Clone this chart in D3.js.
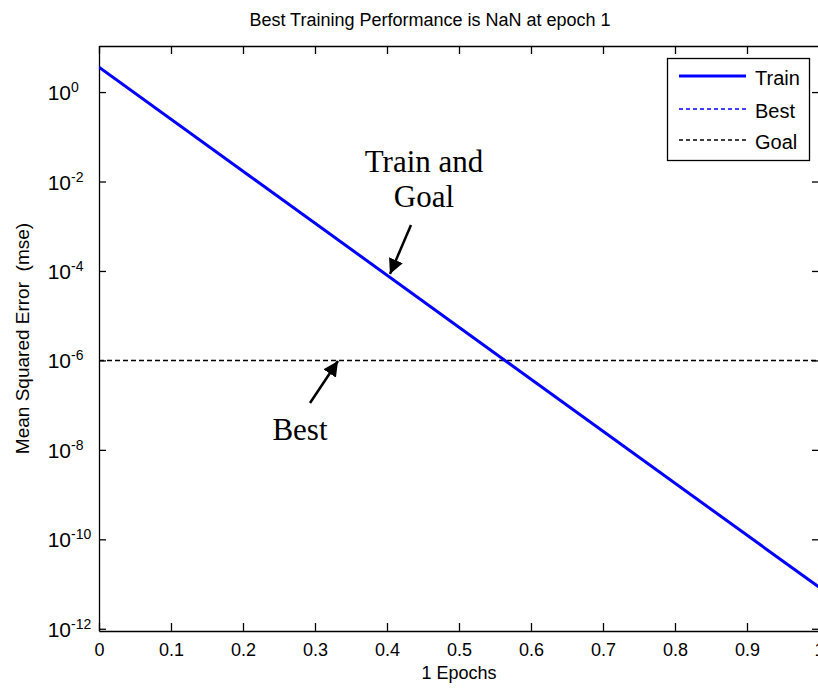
<!DOCTYPE html>
<html>
<head>
<meta charset="utf-8">
<script src="https://cdn.jsdelivr.net/npm/d3@7"></script>
<style>
  body { margin: 0; background: #fff; }
  svg { display: block; }
</style>
</head>
<body>
<script>
// data
var epochs = [0, 1];
var trainMse = [3.6, 8.5e-12];
var goalMse = 1e-6;
var xTicks = [0, 0.1, 0.2, 0.3, 0.4, 0.5, 0.6, 0.7, 0.8, 0.9, 1];
var yTickExps = [0, -2, -4, -6, -8, -10, -12];
var legendLabels = ["Train", "Best", "Goal"];

(function() {
  var W = 818, H = 693;
  var pLeft = 99, pRight = 819, pTop = 46, pBottom = 631;
  var sans = "'Liberation Sans', Arial, sans-serif";
  var serif = "'Liberation Serif', 'Times New Roman', serif";

  var svg = d3.select("body").append("svg")
    .attr("width", W)
    .attr("height", H)
    .style("background", "#fff");

  var defs = svg.append("defs");

  var xScale = d3.scaleLinear().domain([0, 1]).range([pLeft, pRight]);
  var yScale = d3.scaleLog().domain([Math.pow(10, -12.05), Math.pow(10, 1.03)]).range([pBottom, pTop]);

  var yTickVals = yTickExps.map(function(e) { return Math.pow(10, e); });

  defs.append("clipPath").attr("id", "plotclip")
    .append("rect")
    .attr("x", pLeft).attr("y", pTop)
    .attr("width", pRight - pLeft).attr("height", pBottom - pTop);

  // axes with inward ticks
  function styleAxis(g) {
    g.select(".domain").attr("stroke", "#000").attr("stroke-width", 1.3);
    g.selectAll(".tick line").attr("stroke", "#000").attr("stroke-width", 1.3);
    g.selectAll(".tick text").attr("fill", "#000");
  }

  var xAxisB = svg.append("g")
    .attr("transform", "translate(0," + pBottom + ")")
    .call(d3.axisBottom(xScale).tickValues(xTicks).tickSizeInner(-8).tickSizeOuter(0).tickPadding(12)
      .tickFormat(function(d) { return String(+d.toFixed(1)); }))
    .call(styleAxis);
  xAxisB.selectAll(".tick text")
    .style("font-family", sans).style("font-size", "18px");

  svg.append("g")
    .attr("transform", "translate(0," + pTop + ")")
    .call(d3.axisTop(xScale).tickValues(xTicks).tickSizeInner(-8).tickSizeOuter(0).tickFormat(""))
    .call(styleAxis);

  svg.append("g")
    .attr("transform", "translate(" + pLeft + ",0)")
    .call(d3.axisLeft(yScale).tickValues(yTickVals).tickSizeInner(-7).tickSizeOuter(0).tickFormat(""))
    .call(styleAxis);

  svg.append("g")
    .attr("transform", "translate(" + pRight + ",0)")
    .call(d3.axisRight(yScale).tickValues(yTickVals).tickSizeInner(-7).tickSizeOuter(0).tickFormat(""))
    .call(styleAxis);

  // y tick labels: 10 with a superscript exponent
  var yLab = svg.append("g").selectAll("g")
    .data(yTickExps)
    .join("g")
    .attr("transform", function(e) { return "translate(71," + yScale(Math.pow(10, e)) + ")"; });
  yLab.append("text")
    .attr("text-anchor", "end")
    .attr("y", 8)
    .style("font-family", sans).style("font-size", "21px")
    .text("10");
  yLab.append("text")
    .attr("x", 0)
    .attr("y", 0)
    .style("font-family", sans).style("font-size", "14px")
    .text(function(e) { return e; });

  // goal line and train line
  var plot = svg.append("g").attr("clip-path", "url(#plotclip)");
  plot.append("line")
    .attr("x1", xScale(0)).attr("x2", xScale(1))
    .attr("y1", yScale(goalMse)).attr("y2", yScale(goalMse))
    .attr("stroke", "#000").attr("stroke-width", 1.5)
    .attr("stroke-dasharray", "5,3");

  var line = d3.line()
    .x(function(d) { return xScale(d[0]); })
    .y(function(d) { return yScale(d[1]); });
  plot.append("path")
    .datum(d3.zip(epochs, trainMse))
    .attr("d", line)
    .attr("fill", "none")
    .attr("stroke", "#0000ff")
    .attr("stroke-width", 3);

  // title and axis labels
  svg.append("text")
    .attr("x", 430).attr("y", 26)
    .attr("text-anchor", "middle")
    .style("font-family", sans).style("font-size", "18px")
    .text("Best Training Performance is NaN at epoch 1");

  svg.append("text")
    .attr("x", 459).attr("y", 679)
    .attr("text-anchor", "middle")
    .style("font-family", sans).style("font-size", "18px")
    .text("1 Epochs");

  svg.append("text")
    .attr("transform", "translate(29," + ((pTop + pBottom) / 2) + ") rotate(-90)")
    .attr("text-anchor", "middle")
    .style("white-space", "pre")
    .style("font-family", sans).style("font-size", "19px")
    .text("Mean Squared Error  (mse)");

  // legend
  var lg = svg.append("g");
  lg.append("rect")
    .attr("x", 667.5).attr("y", 58.5)
    .attr("width", 142).attr("height", 102)
    .attr("fill", "#fff").attr("stroke", "#000").attr("stroke-width", 1.3);
  var legendStyles = [
    { stroke: "#0000ff", width: 3, dash: null },
    { stroke: "#0000ff", width: 1.3, dash: "4,3" },
    { stroke: "#000", width: 1.3, dash: "4,3" }
  ];
  var rowY = [76, 109, 140];
  legendLabels.forEach(function(lbl, i) {
    lg.append("line")
      .attr("x1", 679).attr("x2", 746)
      .attr("y1", rowY[i]).attr("y2", rowY[i])
      .attr("stroke", legendStyles[i].stroke)
      .attr("stroke-width", legendStyles[i].width)
      .attr("stroke-dasharray", legendStyles[i].dash);
    lg.append("text")
      .attr("x", 755).attr("y", rowY[i] + 9)
      .style("font-family", sans).style("font-size", "20px")
      .text(lbl);
  });

  // annotations
  defs.append("marker")
    .attr("id", "arrowhead")
    .attr("viewBox", "0 0 10 10")
    .attr("refX", 10).attr("refY", 5)
    .attr("markerWidth", 6).attr("markerHeight", 6)
    .attr("markerUnits", "strokeWidth")
    .attr("orient", "auto")
    .append("path").attr("d", "M0,0 L10,5 L0,10 z").attr("fill", "#000");

  var notes = svg.append("g")
    .style("font-family", serif).style("font-size", "31px")
    .attr("text-anchor", "middle");
  notes.append("text").attr("x", 424).attr("y", 172).text("Train and");
  notes.append("text").attr("x", 424).attr("y", 207).text("Goal");
  notes.append("text").attr("x", 300).attr("y", 440).text("Best");

  svg.append("line")
    .attr("x1", 411).attr("y1", 225).attr("x2", 390).attr("y2", 274)
    .attr("stroke", "#000").attr("stroke-width", 2.5)
    .attr("marker-end", "url(#arrowhead)");
  svg.append("line")
    .attr("x1", 310).attr("y1", 403).attr("x2", 338).attr("y2", 361)
    .attr("stroke", "#000").attr("stroke-width", 2.5)
    .attr("marker-end", "url(#arrowhead)");
})();
</script>
</body>
</html>
